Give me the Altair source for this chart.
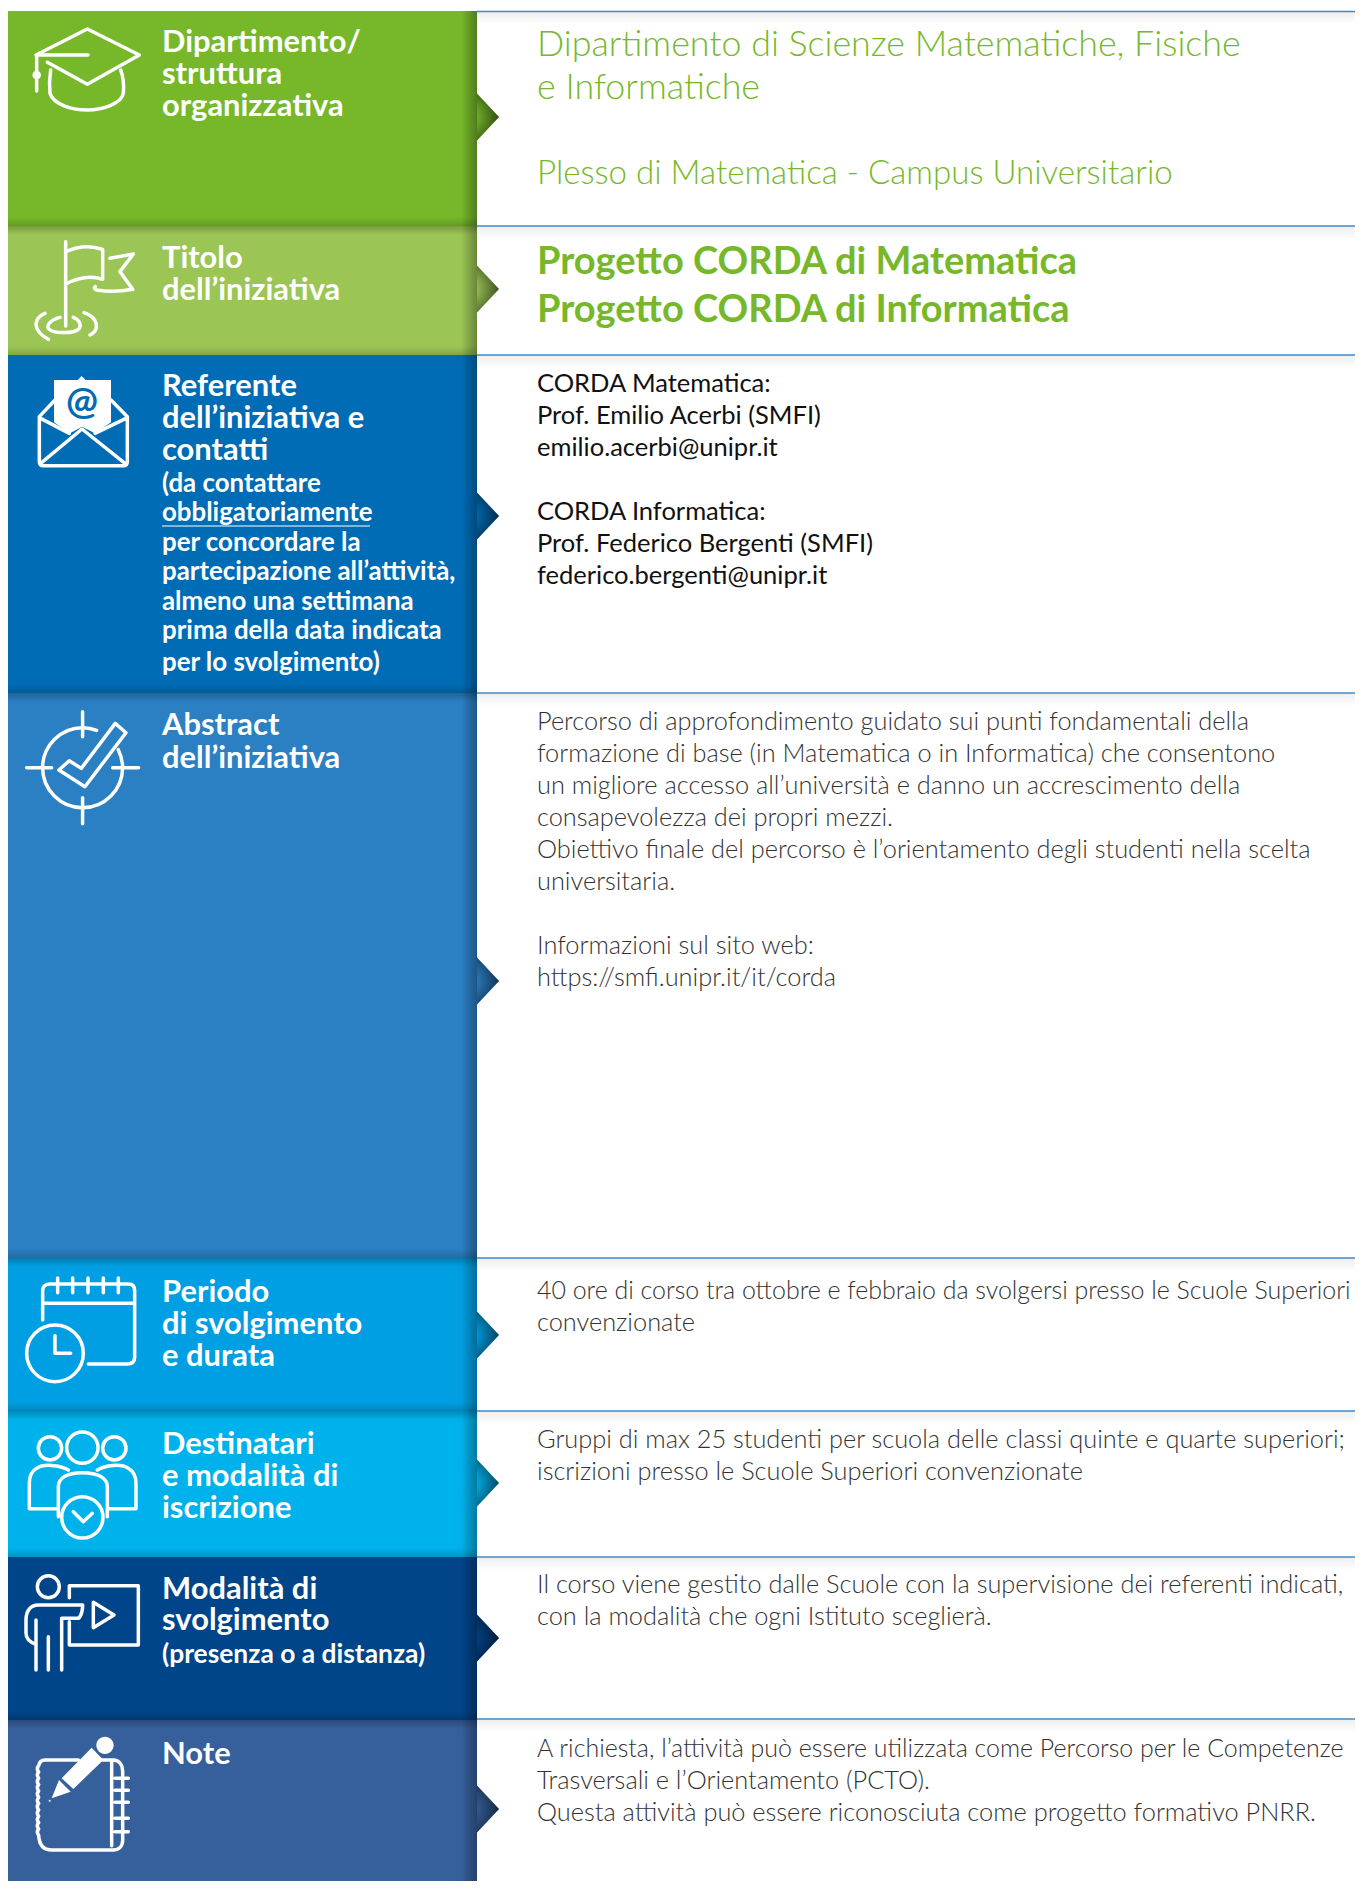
import altair as alt
import pandas as pd

# ---------- band data ----------
BAND_TOPS = [11, 226, 355, 693, 1258, 1411, 1557, 1720]
BAND_BOTTOMS = [226, 355, 693, 1258, 1411, 1557, 1720, 1881]
BAND_COLORS = ["#76B82A", "#9BC655", "#006CB5", "#2B7FC3", "#009FE3", "#00B2EB", "#004489", "#36609B"]
BAND_LEFT = 8
BAND_RIGHT = 477
PAGE_RIGHT = 1355
RULE_YS = [11.5, 226, 355, 693, 1258, 1411, 1557, 1719]
ARROW_YS = [117, 289, 516, 981, 1335, 1483, 1638, 1809]
TOP_SHADED = [False, True, False, True, True, True, False, True]
BOTTOM_SHADED = [True, True, True, True, True, True, True, False]

# ---------- left labels ----------
LABELS = ["Dipartimento/", "struttura", "organizzativa", "Titolo", "dell’iniziativa",
          "Referente", "dell’iniziativa e", "contatti", "Abstract", "dell’iniziativa",
          "Periodo", "di svolgimento", "e durata", "Destinatari", "e modalità di", "iscrizione",
          "Modalità di", "svolgimento", "Note"]
LABEL_YS = [52, 84, 116, 268, 300, 396, 428, 460, 735, 768,
            1302, 1334, 1366, 1454, 1486, 1518, 1599, 1630, 1764]
SUB_LABELS = ["(da contattare", "obbligatoriamente", "per concordare la",
              "partecipazione all’attività,", "almeno una settimana",
              "prima della data indicata", "per lo svolgimento)"]
SUB_YS = [492, 521, 551, 580, 610, 639, 671]
SUB_MODE = ["(presenza o a distanza)"]
SUB_MODE_YS = [1663]

# ---------- right texts ----------
TITLE_LIGHT = ["Dipartimento di Scienze Matematiche, Fisiche", "e Informatiche"]
TITLE_LIGHT_YS = [56, 99]
PLACE = ["Plesso di Matematica - Campus Universitario"]
PLACE_YS = [184]
TITLE_BOLD = ["Progetto CORDA di Matematica", "Progetto CORDA di Informatica"]
TITLE_BOLD_YS = [274, 322]
CONTACTS = ["CORDA Matematica:", "Prof. Emilio Acerbi (SMFI)", "emilio.acerbi@unipr.it",
            "CORDA Informatica:", "Prof. Federico Bergenti (SMFI)", "federico.bergenti@unipr.it"]
CONTACT_YS = [392, 424, 456, 520, 552, 584]
BODY = ["Percorso di approfondimento guidato sui punti fondamentali della",
        "formazione di base (in Matematica o in Informatica) che consentono",
        "un migliore accesso all’università e danno un accrescimento della",
        "consapevolezza dei propri mezzi.",
        "Obiettivo finale del percorso è l’orientamento degli studenti nella scelta",
        "universitaria.",
        "Informazioni sul sito web:",
        "https://smfi.unipr.it/it/corda",
        "convenzionate",
        "Gruppi di max 25 studenti per scuola delle classi quinte e quarte superiori;",
        "iscrizioni presso le Scuole Superiori convenzionate",
        "Il corso viene gestito dalle Scuole con la supervisione dei referenti indicati,",
        "con la modalità che ogni Istituto sceglierà.",
        "Trasversali e l’Orientamento (PCTO).",
        "Questa attività può essere riconosciuta come progetto formativo PNRR."]
BODY_YS = [730, 762, 794, 826, 858, 890, 954, 986, 1331, 1448, 1480, 1593, 1625, 1789, 1821]
BODY_LONG = ["40 ore di corso tra ottobre e febbraio da svolgersi presso le Scuole Superiori",
             "A richiesta, l’attività può essere utilizzata come Percorso per le Competenze"]
BODY_LONG_YS = [1299, 1757]

LEFT_TEXT_X = 162
RIGHT_TEXT_X = 537
UNDERLINE_X = [162, 370]
UNDERLINE_Y = 526

# ---------- icon glyphs (SVG symbol outlines, drawn through mark shape) ----------
def circ(cx, cy, r):
    k = r * 0.5523
    return (f"M{cx-r},{cy}C{cx-r},{cy-k} {cx-k},{cy-r} {cx},{cy-r}C{cx+k},{cy-r} {cx+r},{cy-k} {cx+r},{cy}"
            f"C{cx+r},{cy+k} {cx+k},{cy+r} {cx},{cy+r}C{cx-k},{cy+r} {cx-r},{cy+k} {cx-r},{cy}Z")

CAP = ("M232,42L388,120L232,208L112,142M232,42L78,120H234M80,120V228"
       "M122,165C118,190 118,215 120,235C130,270 190,285 232,285C280,285 335,265 340,235C342,210 338,180 332,165")
FLAG = ("M167,35V288M167,65C200,50 240,45 278,58V148C240,135 200,145 167,162"
        "M300,85L370,72L330,125L368,178C330,185 290,185 260,180C252,178 252,172 256,170"
        "M150,262C120,270 110,285 115,295C125,312 195,312 208,295C215,280 205,268 190,262"
        "M105,250C70,265 65,300 115,328M222,248C265,262 270,300 240,315")
MAIL = ("M135,105L88,155V290C88,298 92,302 100,302H340C348,302 352,298 352,290V155L303,105"
        "M92,160L178,205M348,160L255,205M92,295L216,192L345,295")
TARGET = ("M42,-112C28,-118 15,-120 0,-120C-66,-120 -120,-66 -120,0C-120,66 -66,120 0,120C66,120 120,66 120,0"
          "C120,-20 115,-38 107,-54M-71,7L-40,-21L-4,2L98,-133L130,-105L7,57Z"
          "M0,-168V-93M0,90V168M-168,0H-93M90,0H168")
CALENDAR = ("M98,150V62C98,48 108,42 120,42H355C368,42 374,50 374,62V262C374,275 366,282 352,282H235"
            "M100,100H372M143,24V68M188,24V68M234,24V68M280,24V68M325,24V68"
            + circ(135, 250, 85) + "M135,197V250H182")
PEOPLE = (circ(120, 535, 35) + circ(217, 533, 47) + circ(313, 535, 35)
          + "M175,600C150,585 100,580 80,595C62,605 58,620 58,640V716H140"
            "M262,600C285,585 335,580 355,595C372,605 378,620 378,640V716H295"
            "M145,740V650C145,625 170,608 217,608C265,608 292,625 292,650V740"
          + circ(217, 742, 62) + "M190,725L220,755L247,730")
PRESENTER = (circ(115, 65, 33)
             + "M178,98V62H385V240H178V170M250,112L312,150L250,188Z"
               "M155,315V160H205C215,155 218,130 218,120H85C60,120 48,140 48,165V205C48,220 60,232 78,238"
               "M78,165V315M115,215V315")
NOTEBOOK = ("M205,585H105C95,585 88,592 86,602q-8,9 0,19q-8,9 0,19q-8,9 0,19q-8,9 0,19q-8,9 0,19q-8,9 0,19"
            "q-8,9 0,19q-8,9 0,19q-8,9 0,19q-8,9 0,19q-8,9 0,19C88,845 105,855 125,855H310C325,855 338,845 338,825"
            "V618C338,600 328,585 310,585H270M305,590V842M315,640H355M315,676H355M315,712H355M315,760H355M315,800H355")
PAPER = "M132,45H203L215,33L227,45H303V172L255,205L216,185L180,205L132,172Z"
PENCIL = ("M155,640L245,548L280,585L190,672ZM147,645L182,680L125,700Z"
          + circ(285, 541, 26) + circ(119, 707, 3))
CAP_BALL = circ(80, 180, 13)

ICON_OUTLINES = [CAP, FLAG, MAIL, TARGET, CALENDAR, PEOPLE, PRESENTER, NOTEBOOK]
ICON_X = [10, 10, 10, 82.6, 10, 10, 10, 10]
ICON_Y = [15, 230, 365, 767.7, 1270, 1270, 1565, 1565]
SOLID_SHAPES = [CAP_BALL, PAPER, PENCIL]
SOLID_X = [10, 10, 10]
SOLID_Y = [15, 365, 1565]
AT_SIGN = ["@"]
AT_X = [82]
AT_Y = [414]

ARROW = "M0,-23.5L22,0L0,23.5Z"
SCALE_THIRD = 4 / 9   # symbol paths are authored at 3x

# ---------- helpers ----------
X_SCALE = alt.Scale(domain=[8, 1355], nice=False, zero=False)
Y_SCALE = alt.Scale(domain=[1881, 8], nice=False, zero=False)
X = alt.X("x:Q", scale=X_SCALE, axis=None)
Y = alt.Y("y:Q", scale=Y_SCALE, axis=None)
X0 = alt.X("x0:Q", scale=X_SCALE, axis=None)
X1 = alt.X2("x1:Q")
Y0 = alt.Y("y0:Q", scale=Y_SCALE, axis=None)
Y1 = alt.Y2("y1:Q")

def lin(x2, y2, stops):
    return {"gradient": "linear", "x1": 0, "y1": 0, "x2": x2, "y2": y2,
            "stops": [{"offset": o, "color": c} for o, c in stops]}

def text_layer(lines, ys, x, font, size, weight, color):
    df = pd.DataFrame({"t": lines, "y": ys, "x": x})
    return alt.Chart(df).mark_text(font=font, fontSize=size, fontWeight=weight, color=color,
                                   align="left", baseline="alphabetic", clip=False).encode(x=X, y=Y, text="t:N")

bands = pd.DataFrame({"x0": BAND_LEFT, "x1": BAND_RIGHT, "y0": BAND_TOPS, "y1": BAND_BOTTOMS, "c": BAND_COLORS})
band_layer = alt.Chart(bands).mark_rect(opacity=1).encode(x=X0, x2=X1, y=Y0, y2=Y1, fill=alt.Fill("c:N", scale=None))

right_shade = pd.DataFrame({"x0": BAND_RIGHT - 16, "x1": BAND_RIGHT, "y0": BAND_TOPS, "y1": BAND_BOTTOMS})
right_layer = alt.Chart(right_shade).mark_rect(
    opacity=1, fill=lin(1, 0, [(0, "rgba(0,0,0,0)"), (1, "rgba(0,0,0,0.32)")])
).encode(x=X0, x2=X1, y=Y0, y2=Y1)

top_rows = [t for t, s in zip(BAND_TOPS, TOP_SHADED) if s]
top_df = pd.DataFrame({"x0": BAND_LEFT, "x1": BAND_RIGHT, "y0": top_rows, "y1": [t + 9 for t in top_rows]})
top_layer = alt.Chart(top_df).mark_rect(
    opacity=1, fill=lin(0, 1, [(0, "rgba(0,0,0,0.22)"), (1, "rgba(0,0,0,0)")])
).encode(x=X0, x2=X1, y=Y0, y2=Y1)

bot_rows = [b for b, s in zip(BAND_BOTTOMS, BOTTOM_SHADED) if s]
bot_df = pd.DataFrame({"x0": BAND_LEFT, "x1": BAND_RIGHT, "y0": [b - 9 for b in bot_rows], "y1": bot_rows})
bot_layer = alt.Chart(bot_df).mark_rect(
    opacity=1, fill=lin(0, 1, [(0, "rgba(0,0,0,0)"), (1, "rgba(0,0,0,0.16)")])
).encode(x=X0, x2=X1, y=Y0, y2=Y1)

shadow_df = pd.DataFrame({"x0": BAND_RIGHT, "x1": PAGE_RIGHT, "y0": RULE_YS, "y1": [r + 13 for r in RULE_YS]})
shadow_layer = alt.Chart(shadow_df).mark_rect(
    opacity=1, fill=lin(0, 1, [(0, "rgba(0,0,0,0.07)"), (1, "rgba(0,0,0,0)")])
).encode(x=X0, x2=X1, y=Y0, y2=Y1)

rule_df = pd.DataFrame({"x0": BAND_RIGHT, "x1": PAGE_RIGHT, "y": RULE_YS})
rule_layer = alt.Chart(rule_df).mark_rule(color="#3D8BCB", strokeWidth=1.4).encode(x=X0, x2=X1, y=Y)

under_df = pd.DataFrame({"x0": [UNDERLINE_X[0]], "x1": [UNDERLINE_X[1]], "y": [UNDERLINE_Y]})
under_layer = alt.Chart(under_df).mark_rule(color="#FFFFFF", strokeWidth=1.2).encode(x=X0, x2=X1, y=Y)

arrow_df = pd.DataFrame({"x": BAND_RIGHT, "y": ARROW_YS, "c": BAND_COLORS})
arrow_layer = alt.Chart(arrow_df).mark_point(
    shape=ARROW, size=4, filled=True, opacity=1, strokeWidth=0
).encode(x=X, y=Y, fill=alt.Fill("c:N", scale=None))
arrow_shade = alt.Chart(arrow_df).mark_point(
    shape=ARROW, size=4, filled=True, opacity=1, strokeWidth=0,
    fill={"gradient": "radial", "x1": 0.05, "y1": 0.5, "x2": 0.05, "y2": 0.5, "r1": 0, "r2": 0.8,
          "stops": [{"offset": 0, "color": "rgba(0,0,0,0)"}, {"offset": 0.25, "color": "rgba(0,0,0,0.05)"},
                    {"offset": 1, "color": "rgba(0,0,0,0.7)"}]}
).encode(x=X, y=Y)

icon_df = pd.DataFrame({"x": ICON_X, "y": ICON_Y, "p": ICON_OUTLINES})
icon_layer = alt.Chart(icon_df).mark_point(
    filled=False, color="#FFFFFF", stroke="#FFFFFF", strokeWidth=3.5, size=SCALE_THIRD, opacity=1,
    strokeCap="round", strokeJoin="round"
).encode(x=X, y=Y, shape=alt.Shape("p:N", scale=None, legend=None))

solid_df = pd.DataFrame({"x": SOLID_X, "y": SOLID_Y, "p": SOLID_SHAPES})
solid_layer = alt.Chart(solid_df).mark_point(
    filled=True, fill="#FFFFFF", size=SCALE_THIRD, opacity=1, strokeWidth=0
).encode(x=X, y=Y, shape=alt.Shape("p:N", scale=None, legend=None))

at_df = pd.DataFrame({"t": AT_SIGN, "x": AT_X, "y": AT_Y})
at_layer = alt.Chart(at_df).mark_text(font="Lato", fontSize=38, fontWeight="bold", color="#006CB5",
                                      align="center", baseline="alphabetic").encode(x=X, y=Y, text="t:N")

layers = [
    shadow_layer, rule_layer, band_layer, right_layer, top_layer, bot_layer,
    arrow_layer, arrow_shade, icon_layer, solid_layer, at_layer, under_layer,
    text_layer(LABELS, LABEL_YS, LEFT_TEXT_X, "Lato", 30.9, "bold", "#FFFFFF"),
    text_layer(SUB_LABELS, SUB_YS, LEFT_TEXT_X, "Lato", 25.85, "bold", "#FFFFFF"),
    text_layer(SUB_MODE, SUB_MODE_YS, LEFT_TEXT_X, "Lato", 26.4, "bold", "#FFFFFF"),
    text_layer(TITLE_LIGHT, TITLE_LIGHT_YS, RIGHT_TEXT_X, "Lato", 35.8, 300, "#76B82A"),
    text_layer(PLACE, PLACE_YS, RIGHT_TEXT_X, "Lato", 33.1, 300, "#76B82A"),
    text_layer(TITLE_BOLD, TITLE_BOLD_YS, RIGHT_TEXT_X, "Lato", 38, "bold", "#76B82A"),
    text_layer(CONTACTS, CONTACT_YS, RIGHT_TEXT_X, "Lato", 25.5, "normal", "#111111"),
    text_layer(BODY, BODY_YS, RIGHT_TEXT_X, "Lato", 25.35, 300, "#333333"),
    text_layer(BODY_LONG, BODY_LONG_YS, RIGHT_TEXT_X, "Lato", 24.95, 300, "#333333"),
]

chart = alt.layer(*layers).properties(
    width=1347, height=1873, padding=0,
    autosize=alt.AutoSizeParams(type="none")
).configure_view(stroke=None)

chart.save("out.html", embed_options={"renderer": "svg", "actions": False})
